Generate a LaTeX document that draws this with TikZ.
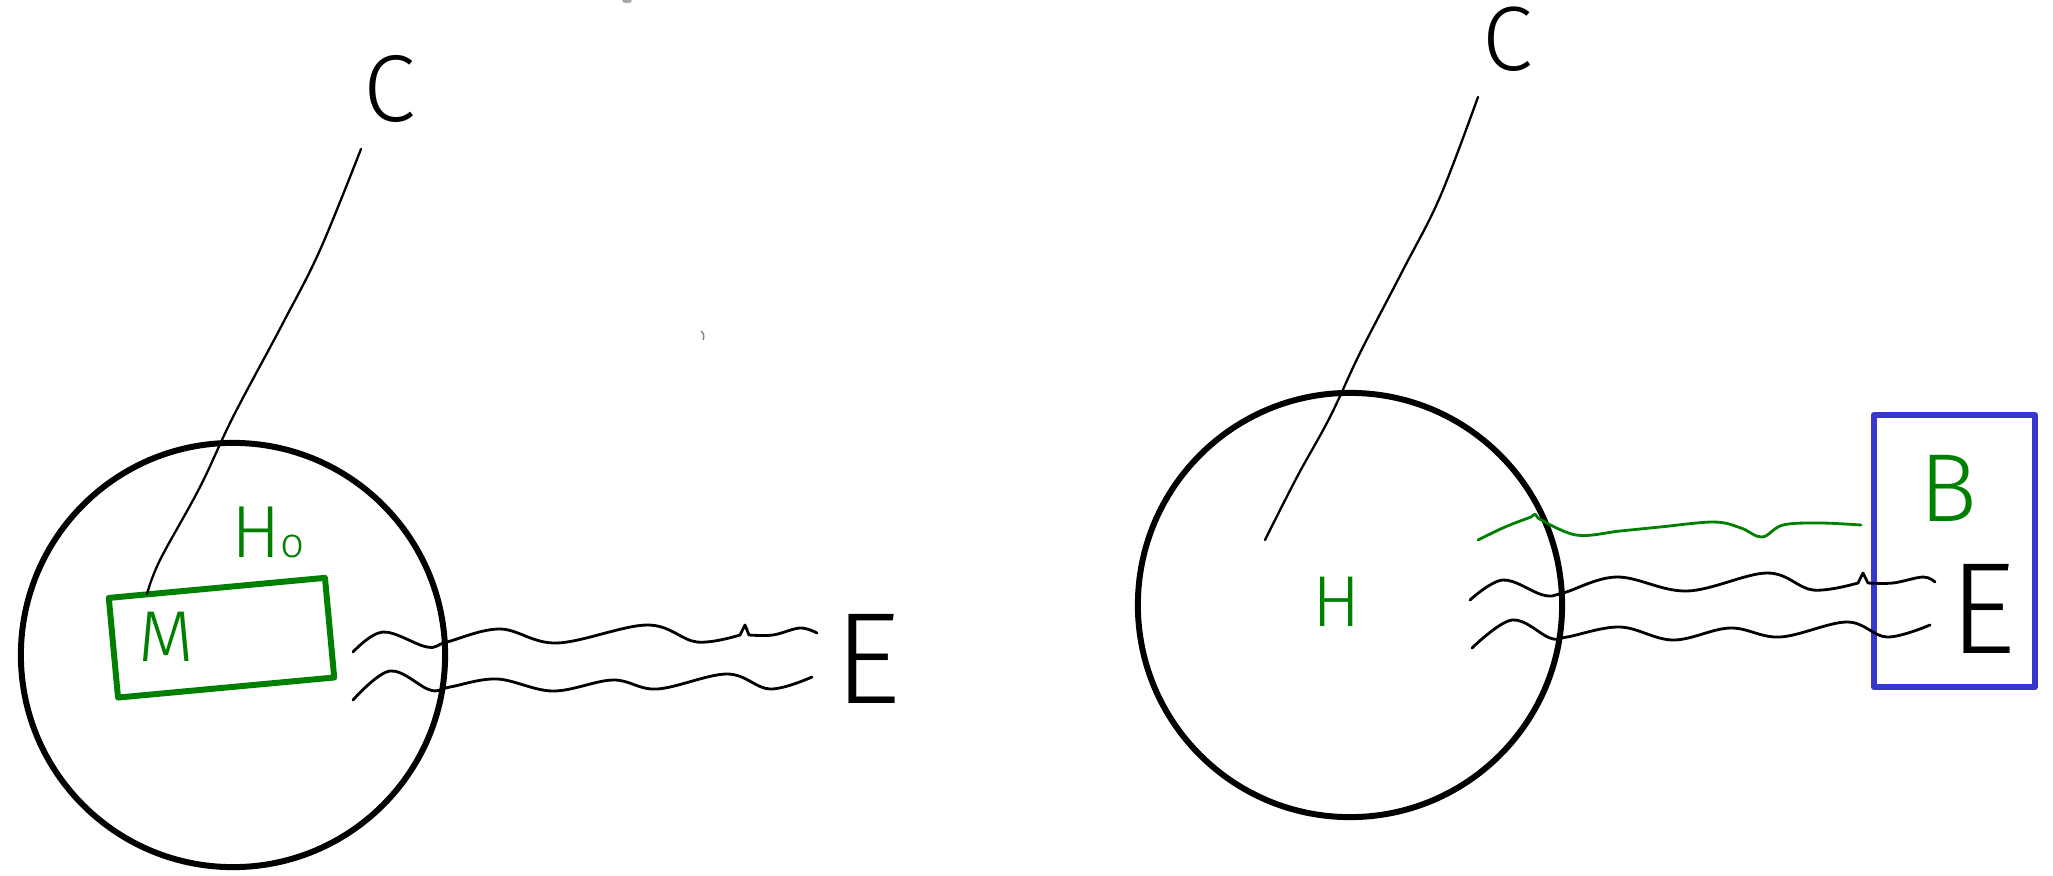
\documentclass[tikz,border=0pt]{standalone}
\usepackage{fontspec}
\IfFontExistsTF{Fira Sans Light}{\newfontfamily\handfont{Fira Sans Light}}{\newcommand\handfont{\sffamily}}
\definecolor{hgreen}{RGB}{0,128,0}
\definecolor{hblue}{RGB}{55,55,205}
\begin{document}
\begin{tikzpicture}[x=0.01cm,y=-0.01cm,
  ball/.style={circle, draw, line width=1.7pt, minimum size=4.24cm, inner sep=0pt},
  wave/.style={line width=0.8pt, line cap=round, line join=round},
  string/.style={line width=0.65pt, line cap=round, line join=round},
  hand/.style={inner sep=0pt, font=\handfont},
  gbox/.style={draw=hgreen, line width=1.7pt, line join=round, inner sep=0pt},
  bbox/.style={draw=hblue, line width=1.7pt, line join=round, inner sep=0pt}]
\useasboundingbox (0,0) rectangle (2053,875);

% ---------------- left part ----------------
\node[ball] (circL) at (233,655) {};
\node[gbox, rotate=5.3, minimum width=2.17cm, minimum height=1.0cm] (boxM) at (221.5,637.7) {};
\node[hand, text=hgreen, font=\handfont\fontsize{20.5}{24}\selectfont] (M) at (166,637) {M};
\node[hand, text=hgreen, font=\handfont\fontsize{21}{24}\selectfont] (H0) at (268,532) {H\fontsize{12}{12}\selectfont o};
\node[hand, font=\handfont\fontsize{27}{30}\selectfont] (CL) at (390,89) {C};
\node[hand, font=\handfont\fontsize{37}{40}\selectfont] (EL) at (868,659) {E};

\coordinate (sLtop) at (361,149);
\coordinate (sLbot) at (147,594);
\draw[string] plot[smooth, tension=0.6] coordinates {(sLtop) (320,250) (283,323) (233,417) (200,487) (160,560) (sLbot)};

\draw[wave] plot[smooth, tension=0.6] coordinates {(353,652) (383,632) (427,647) (447,642) (500,629) (557,643) (647,625) (697,642) (740,635)}
  -- (745,625) -- plot[smooth, tension=0.6] coordinates {(749,635) (773,635) (800,628) (817,633)};
\draw[wave] plot[smooth, tension=0.6] coordinates {(353,700) (390,671) (430,690) (450,687) (497,679) (553,691) (613,680) (657,689) (727,674) (770,689) (812,677)};

% stray marks
\draw[gray, line width=0.4pt] (701,331) to[bend left=40] (703,340);
\fill[gray!70] (627,1) ellipse (5 and 2);

% ---------------- right part ----------------
\node[ball] (circR) at (1350,605) {};
\node[bbox, minimum width=1.61cm, minimum height=2.72cm] (boxB) at (1954.5,551) {};
\node[hand, text=hgreen, font=\handfont\fontsize{20.5}{24}\selectfont] (HR) at (1337,602) {H};
\node[hand, text=hgreen, font=\handfont\fontsize{27.5}{30}\selectfont] (B) at (1948,488) {B};
\node[hand, font=\handfont\fontsize{26}{30}\selectfont] (CR) at (1508,39) {C};
\node[hand, font=\handfont\fontsize{37}{40}\selectfont] (ER) at (1983,609) {E};

\coordinate (sRtop) at (1478,97);
\coordinate (sRbot) at (1265,540);
\draw[string] plot[smooth, tension=0.6] coordinates {(sRtop) (1440,197) (1403,270) (1360,353) (1330,417) (1297,477) (sRbot)};

\draw[wave, hgreen] plot[smooth, tension=0.6] coordinates {(1478,540) (1505,527) (1531,517)}
  -- (1535,514) -- plot[smooth, tension=0.6] coordinates {(1538,518) (1576,535) (1620,531) (1660,527) (1714,522) (1741,528) (1762,537) (1783,525) (1820,523) (1861,525)};
\draw[wave] plot[smooth, tension=0.6] coordinates {(1470,600) (1503,580) (1543,595) (1563,593) (1617,577) (1687,591) (1767,573) (1813,590) (1858,583)}
  -- (1863,573) -- plot[smooth, tension=0.6] coordinates {(1868,583) (1893,583) (1923,577) (1935,582)};
\draw[wave] plot[smooth, tension=0.6] coordinates {(1472,648) (1512,620) (1550,638) (1567,637) (1620,627) (1673,640) (1730,628) (1780,637) (1847,622) (1887,637) (1930,625)};
\end{tikzpicture}
\end{document}
